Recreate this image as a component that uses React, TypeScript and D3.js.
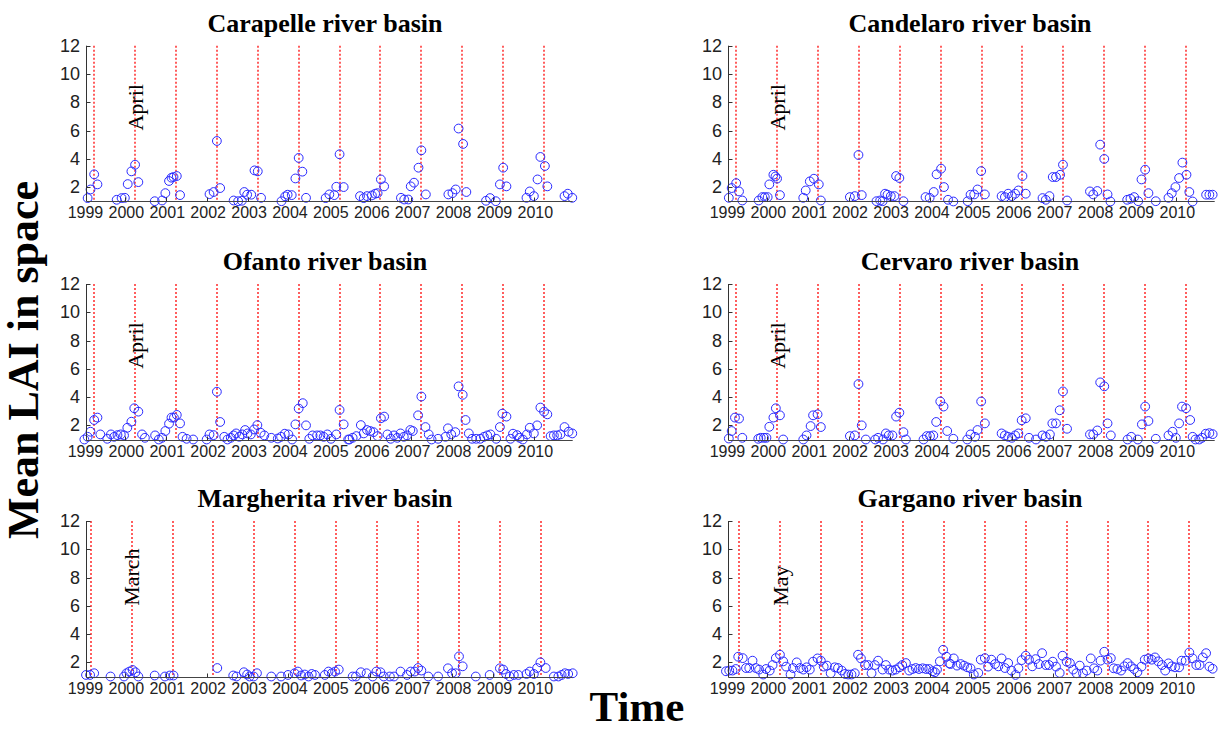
import React from "react";
import * as d3 from "d3";

// ---- Data: [decimal year, mean LAI] ----
const carapelle: [number, number][] = [
  [1999.09,1.22],[1999.16,1.83],[1999.25,2.9],[1999.33,2.19],[1999.8,1.1],[1999.92,1.22],[2000.0,1.24],[2000.07,2.21],[2000.16,3.11],[2000.25,3.58],[2000.33,2.35],
  [2000.73,1.0],[2000.91,1.05],[2000.99,1.57],[2001.08,2.43],[2001.14,2.66],[2001.19,2.71],[2001.27,2.78],[2001.35,1.43],
  [2002.07,1.5],[2002.17,1.65],[2002.25,5.26],[2002.33,1.93],[2002.66,1.05],[2002.77,1.0],[2002.86,1.03],[2002.92,1.65],[2002.99,1.46],[2003.09,1.46],[2003.17,3.18],[2003.25,3.11],[2003.33,1.24],
  [2003.83,1.0],[2003.92,1.34],[2003.98,1.46],[2004.08,1.43],[2004.17,2.61],[2004.25,4.06],[2004.34,3.09],[2004.43,1.24],
  [2004.91,1.22],[2005.0,1.48],[2005.12,1.43],[2005.17,2.02],[2005.25,4.32],[2005.35,2.0],
  [2005.75,1.36],[2005.84,1.22],[2005.92,1.36],[2006.04,1.41],[2006.12,1.53],[2006.18,1.57],[2006.26,2.54],[2006.34,2.05],
  [2006.75,1.24],[2006.83,1.12],[2006.93,1.12],[2006.99,2.05],[2007.07,2.31],[2007.18,3.37],[2007.25,4.6],[2007.36,1.48],
  [2007.91,1.48],[2008.01,1.57],[2008.09,1.83],[2008.16,6.14],[2008.27,5.05],[2008.35,1.65],
  [2008.83,1.03],[2008.93,1.22],[2009.07,1.0],[2009.17,2.19],[2009.25,3.37],[2009.33,2.05],
  [2009.82,1.24],[2009.9,1.69],[2010.0,1.36],[2010.09,2.54],[2010.16,4.13],[2010.27,3.49],[2010.33,2.05],
  [2010.75,1.36],[2010.83,1.53],[2010.94,1.24],
];

const candelaro: [number, number][] = [
  [1999.07,1.24],[1999.14,1.93],[1999.25,2.28],[1999.32,1.69],[1999.4,1.05],
  [1999.8,1.05],[1999.89,1.29],[1999.95,1.29],[2000.02,1.29],[2000.06,2.19],[2000.16,2.87],[2000.21,2.75],[2000.25,2.6],[2000.32,1.43],
  [2000.89,1.24],[2000.95,1.76],[2001.05,2.4],[2001.15,2.59],[2001.27,2.19],[2001.32,1.05],
  [2002.03,1.29],[2002.15,1.36],[2002.24,4.27],[2002.32,1.43],
  [2002.68,1.0],[2002.77,1.05],[2002.83,1.0],[2002.89,1.53],[2002.95,1.46],[2003.03,1.36],[2003.12,1.36],[2003.16,2.78],[2003.24,2.64],[2003.34,1.0],
  [2003.88,1.29],[2003.98,1.24],[2004.08,1.65],[2004.15,2.9],[2004.26,3.3],[2004.33,2.0],[2004.43,1.1],[2004.56,0.98],
  [2004.91,1.0],[2004.98,1.46],[2005.07,1.48],[2005.15,1.83],[2005.24,3.13],[2005.33,1.48],
  [2005.74,1.36],[2005.82,1.29],[2005.9,1.53],[2005.99,1.36],[2006.07,1.53],[2006.15,1.76],[2006.25,2.78],[2006.33,1.53],
  [2006.74,1.22],[2006.82,1.1],[2006.91,1.36],[2006.99,2.71],[2007.07,2.71],[2007.17,2.87],[2007.24,3.58],[2007.34,1.05],
  [2007.9,1.69],[2007.98,1.48],[2008.08,1.72],[2008.15,5.0],[2008.25,3.99],[2008.33,1.48],[2008.4,0.98],
  [2008.81,1.1],[2008.89,1.17],[2008.98,1.29],[2009.08,1.0],[2009.16,2.54],[2009.25,3.23],[2009.33,1.57],[2009.51,1.0],
  [2009.82,1.24],[2009.9,1.57],[2009.99,2.0],[2010.08,2.64],[2010.16,3.73],[2010.26,2.87],[2010.33,1.65],[2010.41,0.98],
  [2010.74,1.46],[2010.82,1.46],[2010.9,1.46],
];

const ofanto: [number, number][] = [
  [1999.01,1.0],[1999.09,1.19],[1999.16,1.55],[1999.25,2.38],[1999.33,2.55],[1999.4,1.36],[1999.57,1.05],[1999.66,1.36],[1999.74,1.19],[1999.82,1.31],[1999.9,1.36],[1999.98,1.29],
  [2000.06,1.83],[2000.16,2.26],[2000.23,3.21],[2000.33,2.97],[2000.42,1.36],[2000.49,1.12],[2000.74,1.29],[2000.83,1.0],[2000.91,1.12],[2000.99,1.6],
  [2001.08,2.12],[2001.14,2.55],[2001.2,2.55],[2001.27,2.74],[2001.35,2.14],[2001.41,1.19],[2001.51,1.05],[2001.67,1.0],
  [2002.0,1.0],[2002.07,1.36],[2002.17,1.31],[2002.25,4.38],[2002.33,2.24],[2002.43,1.19],[2002.51,1.0],[2002.59,1.12],[2002.66,1.29],[2002.72,1.43],[2002.8,1.19],[2002.87,1.36],[2002.94,1.67],
  [2003.0,1.43],[2003.08,1.36],[2003.16,1.71],[2003.24,2.02],[2003.32,1.48],[2003.41,1.29],[2003.58,1.12],[2003.74,1.07],[2003.82,1.19],[2003.91,1.41],
  [2004.0,1.36],[2004.09,1.0],[2004.17,2.07],[2004.25,3.19],[2004.35,3.57],[2004.43,2.0],[2004.51,1.05],[2004.59,1.29],[2004.7,1.29],[2004.78,1.29],[2004.86,1.19],[2004.95,1.36],
  [2005.04,1.05],[2005.17,1.36],[2005.25,3.09],[2005.35,2.07],[2005.46,1.0],[2005.49,1.0],[2005.57,1.12],[2005.66,1.24],[2005.77,2.02],[2005.84,1.43],[2005.92,1.67],
  [2006.0,1.6],[2006.08,1.52],[2006.18,1.24],[2006.26,2.5],[2006.34,2.62],[2006.42,1.36],[2006.5,1.05],[2006.58,1.29],[2006.66,1.12],[2006.74,1.43],[2006.82,1.19],[2006.9,1.29],[2006.98,1.67],
  [2007.04,1.6],[2007.17,2.71],[2007.25,4.04],[2007.35,1.88],[2007.43,1.36],[2007.5,1.0],[2007.66,1.05],[2007.84,1.19],[2007.9,1.79],[2007.98,1.36],
  [2008.08,1.52],[2008.16,4.76],[2008.26,4.16],[2008.33,2.38],[2008.41,1.43],[2008.49,1.05],[2008.59,1.05],[2008.69,1.05],[2008.78,1.19],[2008.86,1.29],[2008.94,1.36],
  [2009.08,1.05],[2009.17,1.88],[2009.23,2.83],[2009.33,2.62],[2009.43,1.05],[2009.49,1.41],[2009.59,1.31],[2009.65,1.12],[2009.73,1.0],[2009.83,1.36],[2009.9,1.83],
  [2010.0,1.43],[2010.08,2.0],[2010.16,3.26],[2010.25,2.97],[2010.33,2.78],[2010.41,1.24],[2010.49,1.29],[2010.57,1.29],[2010.65,1.36],[2010.75,1.88],[2010.85,1.55],[2010.94,1.43],
];

const cervaro: [number, number][] = [
  [1999.07,1.07],[1999.14,1.6],[1999.22,2.55],[1999.32,2.48],[1999.4,1.12],
  [1999.79,1.05],[1999.85,1.12],[1999.93,1.12],[1999.99,1.12],[2000.06,1.9],[2000.16,2.55],[2000.22,3.21],[2000.32,2.71],[2000.4,1.0],
  [2000.89,1.0],[2000.97,1.29],[2001.07,1.95],[2001.13,2.71],[2001.24,2.78],[2001.32,1.88],
  [2002.03,1.24],[2002.15,1.29],[2002.24,4.92],[2002.32,2.0],[2002.42,1.0],
  [2002.65,1.0],[2002.72,1.12],[2002.84,1.0],[2002.91,1.43],[2002.98,1.29],[2003.07,1.29],[2003.16,2.62],[2003.24,2.9],[2003.34,1.52],[2003.4,1.0],
  [2003.83,1.0],[2003.91,1.24],[2003.99,1.24],[2004.07,1.29],[2004.14,2.24],[2004.24,3.69],[2004.32,3.33],[2004.41,1.6],[2004.56,1.05],
  [2004.9,1.0],[2004.98,1.36],[2005.09,1.19],[2005.15,1.67],[2005.24,3.69],[2005.33,2.14],
  [2005.74,1.43],[2005.82,1.29],[2005.9,1.19],[2005.99,1.12],[2006.07,1.29],[2006.15,1.43],[2006.23,2.36],[2006.33,2.5],[2006.41,1.12],[2006.58,1.0],
  [2006.74,1.29],[2006.82,1.19],[2006.92,1.36],[2006.98,2.14],[2007.07,2.14],[2007.16,3.07],[2007.24,4.4],[2007.34,1.76],
  [2007.9,1.36],[2007.98,1.36],[2008.08,1.64],[2008.15,5.04],[2008.25,4.76],[2008.33,2.14],[2008.41,1.29],
  [2008.82,1.0],[2008.91,1.19],[2009.07,1.0],[2009.17,2.07],[2009.25,3.33],[2009.33,2.31],[2009.51,1.05],
  [2009.82,1.29],[2009.92,1.55],[2010.0,1.12],[2010.08,2.14],[2010.15,3.33],[2010.25,3.21],[2010.35,2.38],[2010.41,1.19],[2010.48,1.0],[2010.57,1.0],[2010.64,1.12],[2010.73,1.41],[2010.82,1.45],[2010.9,1.38],
];

const margherita: [number, number][] = [
  [1999.05,1.11],[1999.15,1.11],[1999.25,1.23],[1999.65,1.0],[1999.98,1.0],[2000.04,1.23],[2000.11,1.35],[2000.19,1.46],[2000.26,1.3],[2000.33,1.0],
  [2000.73,1.07],[2000.98,1.0],[2001.1,1.07],[2001.19,1.07],[2002.26,1.6],
  [2002.65,1.07],[2002.73,1.0],[2002.91,1.3],[2002.99,1.14],[2003.05,1.0],[2003.15,1.0],[2003.23,1.23],[2003.58,1.0],[2003.82,1.0],[2003.99,1.11],
  [2004.15,1.23],[2004.23,1.35],[2004.31,1.07],[2004.4,1.14],[2004.49,1.0],[2004.57,1.18],[2004.65,1.11],[2004.89,1.11],[2004.98,1.35],[2005.06,1.23],[2005.14,1.35],[2005.23,1.49],
  [2005.57,1.0],[2005.65,1.0],[2005.77,1.3],[2005.91,1.23],[2006.06,1.0],[2006.15,1.35],[2006.25,1.3],[2006.33,1.0],[2006.48,1.0],[2006.58,1.0],[2006.74,1.35],[2006.9,1.11],[2006.99,1.35],
  [2007.09,1.35],[2007.17,1.6],[2007.25,1.42],[2007.42,1.0],[2007.66,1.0],[2007.9,1.58],[2008.0,1.23],[2008.09,1.23],[2008.17,2.42],[2008.26,1.72],[2008.58,1.0],[2008.92,1.11],
  [2009.17,1.58],[2009.25,1.49],[2009.32,1.18],[2009.41,1.0],[2009.51,1.11],[2009.62,1.11],[2009.82,1.18],[2009.9,1.35],[2010.0,1.18],[2010.08,1.6],[2010.16,2.0],[2010.29,1.6],
  [2010.49,1.0],[2010.6,1.0],[2010.68,1.11],[2010.76,1.23],[2010.84,1.18],[2010.95,1.23],
];

const gargano: [number, number][] = [
  [1999.0,1.37],[1999.08,1.42],[1999.16,1.42],[1999.24,1.53],[1999.3,2.4],[1999.41,2.3],[1999.49,1.6],[1999.57,1.6],[1999.65,2.12],[1999.73,1.6],[1999.81,1.49],[1999.91,1.14],[1999.98,1.53],
  [2000.07,1.42],[2000.14,1.81],[2000.22,2.3],[2000.32,2.54],[2000.4,2.07],[2000.47,1.7],[2000.58,1.14],[2000.64,1.6],[2000.73,2.0],[2000.81,1.6],[2000.89,1.49],[2000.97,1.65],
  [2001.05,1.49],[2001.13,2.05],[2001.24,2.28],[2001.32,2.12],[2001.39,1.7],[2001.47,1.77],[2001.56,1.23],[2001.66,1.65],[2001.74,1.6],[2001.83,1.42],[2001.91,1.18],[2001.99,1.14],
  [2002.07,1.14],[2002.15,1.23],[2002.23,2.54],[2002.3,2.28],[2002.4,1.81],[2002.48,1.81],[2002.56,1.23],[2002.64,1.81],[2002.72,2.12],[2002.83,1.49],[2002.91,1.81],[2002.99,1.49],
  [2003.07,1.42],[2003.15,1.49],[2003.24,1.65],[2003.31,1.81],[2003.4,1.95],[2003.48,1.42],[2003.56,1.53],[2003.64,1.6],[2003.72,1.53],[2003.81,1.58],[2003.89,1.53],[2003.97,1.53],
  [2004.05,1.37],[2004.11,1.3],[2004.16,1.49],[2004.23,2.07],[2004.31,2.89],[2004.39,2.4],[2004.46,1.93],[2004.49,1.88],[2004.57,2.28],[2004.65,1.77],[2004.74,1.88],[2004.82,1.77],[2004.9,1.65],[2004.98,1.58],
  [2005.06,1.14],[2005.17,1.25],[2005.23,2.19],[2005.33,2.3],[2005.41,1.7],[2005.49,2.19],[2005.58,1.88],[2005.66,1.72],[2005.74,2.28],[2005.82,1.6],[2005.9,1.95],[2005.98,1.42],
  [2006.08,1.11],[2006.15,1.58],[2006.23,2.16],[2006.33,2.47],[2006.41,2.19],[2006.49,1.72],[2006.57,2.23],[2006.65,1.88],[2006.73,2.65],[2006.82,1.81],[2006.9,1.81],[2006.99,2.05],
  [2007.07,1.7],[2007.16,1.25],[2007.23,2.47],[2007.33,2.05],[2007.41,1.95],[2007.49,1.49],[2007.57,1.23],[2007.65,1.77],[2007.73,1.23],[2007.82,1.42],[2007.92,2.28],
  [2008.0,1.58],[2008.08,1.42],[2008.16,2.12],[2008.25,2.75],[2008.33,2.19],[2008.41,2.3],[2008.48,1.58],[2008.57,1.53],[2008.66,1.42],[2008.74,1.72],[2008.82,1.95],[2008.9,1.72],[2008.98,1.53],
  [2009.06,1.3],[2009.16,1.7],[2009.24,2.19],[2009.33,2.28],[2009.41,2.19],[2009.49,2.35],[2009.57,2.07],[2009.66,1.81],[2009.74,1.42],[2009.82,1.93],[2009.9,1.72],[2009.98,1.65],
  [2010.08,1.65],[2010.14,2.12],[2010.24,2.12],[2010.33,2.7],[2010.41,2.28],[2010.5,1.81],[2010.58,1.81],[2010.66,2.35],[2010.74,2.65],[2010.82,1.7],[2010.9,1.55],
];

const years = [1999, 2000, 2001, 2002, 2003, 2004, 2005, 2006, 2007, 2008, 2009, 2010];
const yTicks = [2, 4, 6, 8, 10, 12];

const panels = [
  { title: "Carapelle river basin", data: carapelle, month: 0.25, monthLabel: "April", col: 0, row: 0 },
  { title: "Candelaro river basin", data: candelaro, month: 0.25, monthLabel: "April", col: 1, row: 0 },
  { title: "Ofanto river basin", data: ofanto, month: 0.25, monthLabel: "April", col: 0, row: 1 },
  { title: "Cervaro river basin", data: cervaro, month: 0.25, monthLabel: "April", col: 1, row: 1 },
  { title: "Margherita river basin", data: margherita, month: 0.167, monthLabel: "March", col: 0, row: 2 },
  { title: "Gargano river basin", data: gargano, month: 0.33, monthLabel: "May", col: 1, row: 2 },
];

const W = 1225, H = 730;
const colX = [86, 728];
const plotW = 486.7;
const rowTop = [45.7, 284, 521];
const plotH = 155.5;
const titleCenter = [325, 970];

const serif = "'Liberation Serif', 'Times New Roman', serif";
const sans = "'Liberation Sans', Arial, sans-serif";

const crisp = (v: number) => Math.round(v) + 0.5;

function Panel({ p }: { p: typeof panels[number] }) {
  const x0 = colX[p.col];
  const y0 = rowTop[p.row];
  const x = d3.scaleLinear().domain([1999.05, 2010.95]).range([x0, x0 + plotW]);
  const y = d3.scaleLinear().domain([1, 12]).range([y0 + plotH, y0]);
  const bottom = crisp(y(1));
  const left = crisp(x0);
  return (
    <g>
      <text x={titleCenter[p.col]} y={y0 - 14} textAnchor="middle" fontFamily={serif} fontWeight="bold" fontSize={26}>
        {p.title}
      </text>
      {years.map((yr) => {
        const xv = Math.round(x(yr + p.month));
        return (
          <line key={"r" + yr} x1={xv} x2={xv} y1={y(12)} y2={bottom}
            stroke="#ff1a1a" strokeWidth={1.4} strokeDasharray="2,2" />
        );
      })}
      <text transform={`translate(${x(2000 + p.month)},${y(6)}) rotate(-90)`} textAnchor="start"
        dominantBaseline="central" fontFamily={serif} fontSize={22}>
        {p.monthLabel}
      </text>
      {p.data.map((d, i) => (
        <circle key={i} cx={x(d[0])} cy={y(d[1])} r={4.4} fill="none" stroke="#2a2aff" strokeWidth={1} />
      ))}
      <line x1={left} x2={left} y1={y(12)} y2={bottom} stroke="#333" strokeWidth={1} />
      <line x1={left} x2={x0 + plotW} y1={bottom} y2={bottom} stroke="#444" strokeWidth={1.2} />
      {yTicks.map((t) => (
        <g key={"y" + t}>
          <line x1={left} x2={left + 4} y1={crisp(y(t))} y2={crisp(y(t))} stroke="#333" />
          <text x={x0 - 6} y={y(t)} textAnchor="end" dominantBaseline="central" fontFamily={sans} fontSize={18} fill="#222">
            {t}
          </text>
        </g>
      ))}
      {years.map((yr) => (
        <g key={"x" + yr}>
          {x(yr) >= x0 && <line x1={crisp(x(yr))} x2={crisp(x(yr))} y1={bottom} y2={bottom - 4} stroke="#333" />}
          <text x={x(yr) + 1.5} y={bottom + 16} textAnchor="middle" fontFamily={sans} fontSize={16} fill="#222">
            {yr}
          </text>
        </g>
      ))}
    </g>
  );
}

export default function App() {
  return (
    <svg width={W} height={H} style={{ display: "block", position: "absolute", left: 0, top: 0, background: "#fff" }}>
      <rect width={W} height={H} fill="#fff" />
      {panels.map((p) => (
        <Panel key={p.title} p={p} />
      ))}
      <text transform="translate(38,360) rotate(-90)" textAnchor="middle" fontFamily={serif} fontWeight="bold" fontSize={44}>
        Mean LAI in space
      </text>
      <text x={637} y={721} textAnchor="middle" fontFamily={serif} fontWeight="bold" fontSize={43}>
        Time
      </text>
    </svg>
  );
}
